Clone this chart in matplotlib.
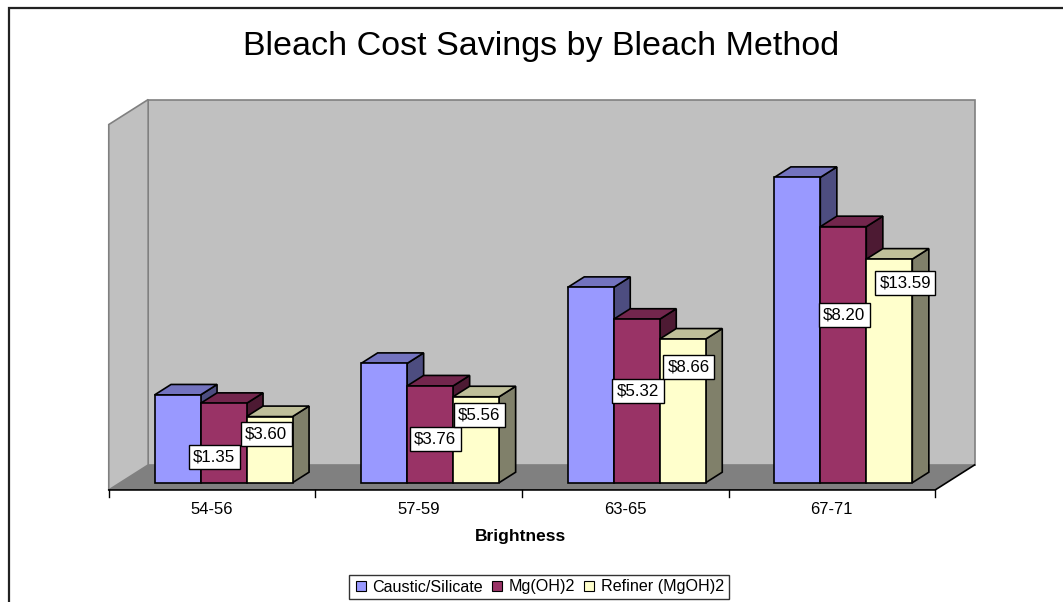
import numpy as np
import matplotlib
matplotlib.use('Agg')
import matplotlib.pyplot as plt
from matplotlib.patches import Polygon, Rectangle
from matplotlib.lines import Line2D

plt.rcParams['font.family'] = ['Liberation Sans', 'DejaVu Sans']

#%% data

categories = ['54-56', '57-59', '63-65', '67-71']
series = ['Caustic/Silicate', 'Mg(OH)2', 'Refiner (MgOH)2']

caustic = [14.6, 19.85, 32.5, 50.8]
mg = [13.2, 16.1, 27.2, 42.6]
refiner = [11.0, 14.3, 23.9, 37.2]

mg_labels = ['$1.35', '$3.76', '$5.32', '$8.20']
refiner_labels = ['$3.60', '$5.56', '$8.66', '$13.59']

# where the label boxes sit (x in category units, y in value units)
mg_label_x = [-0.045, 1.024, 2.006, 3.005]
mg_label_y = [4.33, 7.27, 15.27, 27.9]
ref_label_x = [0.206, 1.238, 2.250, 3.299]
ref_label_y = [8.10, 11.26, 19.2, 33.28]

front_cols = ['#9999FF', '#993366', '#FFFFCC']
top_cols = ['#7373BF', '#73264D', '#BFBF99']
side_cols = ['#4D4D80', '#4D1A33', '#80806A']

#%% figure and "3d" frame

W, H = 1063, 602
fig = plt.figure(figsize=(W / 100, H / 100), dpi=100)
ax = fig.add_axes([0, 0, 1, 1])

X0, SX = 223.5, 206.6   # pixel of category 0, pixels per category
Y0, SY = 482.7, 6.01    # pixel of value 0, pixels per unit
ax.set_xlim((0 - X0) / SX, (W - X0) / SX)
ax.set_ylim((Y0 - H) / SY, Y0 / SY)
ax.axis('off')

DX, DY = 39.4 / SX, 25.0 / SY   # full floor depth in data units
d_front, d_back = -0.29, 0.71
bar_depth = 0.42
ztop = 60.8
bw = 46 / SX


def P(x, v, d):
    return (x + d * DX, v + d * DY)


xl, xr = -0.5, len(categories) - 0.5

# floor
ax.add_patch(Polygon([P(xl, 0, d_front), P(xr, 0, d_front), P(xr, 0, d_back), P(xl, 0, d_back)],
                     closed=True, fc='#808080', ec='none', zorder=1))
# back wall
ax.add_patch(Polygon([P(xl, 0, d_back), P(xr, 0, d_back), P(xr, ztop, d_back), P(xl, ztop, d_back)],
                     closed=True, fc='#C0C0C0', ec='#808080', lw=1.2, zorder=1))
# left wall
ax.add_patch(Polygon([P(xl, 0, d_front), P(xl, 0, d_back), P(xl, ztop, d_back), P(xl, ztop, d_front)],
                     closed=True, fc='#C0C0C0', ec='#808080', lw=1.2, zorder=1))
# floor edges
fx = [P(xl, 0, d_front)[0], P(xr, 0, d_front)[0], P(xr, 0, d_back)[0]]
fy = [P(xl, 0, d_front)[1], P(xr, 0, d_front)[1], P(xr, 0, d_back)[1]]
ax.plot(fx, fy, color='black', lw=1.2, zorder=2)
# ticks on the category axis
for k in range(len(categories) + 1):
    tx, ty = P(xl + k, 0, d_front)
    ax.plot([tx, tx], [ty, ty - 1.1], color='black', lw=1, zorder=2)

#%% bars

data = [caustic, mg, refiner]
for i in range(len(categories)):
    for j in range(3):
        v = data[j][i]
        x0 = i - 1.5 * bw + j * bw
        x1 = x0 + bw
        side = [P(x1, 0, 0), P(x1, 0, bar_depth), P(x1, v, bar_depth), P(x1, v, 0)]
        top = [P(x0, v, 0), P(x1, v, 0), P(x1, v, bar_depth), P(x0, v, bar_depth)]
        front = [P(x0, 0, 0), P(x1, 0, 0), P(x1, v, 0), P(x0, v, 0)]
        z = 3 + i * 3 + j
        ax.add_patch(Polygon(side, closed=True, fc=side_cols[j], ec='black', lw=1.2, zorder=z))
        ax.add_patch(Polygon(top, closed=True, fc=top_cols[j], ec='black', lw=1.2, zorder=z))
        ax.add_patch(Polygon(front, closed=True, fc=front_cols[j], ec='black', lw=1.2, zorder=z))

box = dict(boxstyle='square,pad=0.26', fc='white', ec='black', lw=1)
for i in range(len(categories)):
    ax.text(mg_label_x[i], mg_label_y[i], mg_labels[i], ha='center', va='center',
            fontsize=12.2, bbox=box, zorder=30)
    ax.text(ref_label_x[i], ref_label_y[i], refiner_labels[i], ha='center', va='center',
            fontsize=12.2, bbox=box, zorder=30)

# category labels
for i, c in enumerate(categories):
    cx = P(i, 0, d_front)[0]
    ax.text(cx, (Y0 - 509.5) / SY, c, ha='center', va='center', fontsize=12)

#%% texts, legend, frame

fig.text(540.8 / W, 1 - 46 / H, 'Bleach Cost Savings by Bleach Method',
         ha='center', va='center', fontsize=24.5)
fig.text(520.8 / W, 1 - 536 / H, 'Brightness', ha='center', va='center',
         fontsize=12.5, fontweight='bold')

handles = [Line2D([], [], ls='none', marker='s', markersize=7.5, markerfacecolor=c,
                  markeredgecolor='black', markeredgewidth=0.8) for c in front_cols]
leg = fig.legend(handles, series, loc='center', bbox_to_anchor=(539 / W, 1 - 587 / H),
                 ncol=3, fontsize=11.6, frameon=True, fancybox=False, edgecolor='black',
                 handlelength=0.8, handletextpad=0.3, columnspacing=0.5, borderpad=0.3)
leg.get_frame().set_linewidth(1.0)

fig.patches.append(Rectangle((8.5 / W, -0.02), 1.02, 1 - 7.5 / H + 0.02, transform=fig.transFigure,
                             fill=False, ec='#222222', lw=1.6))

fig.savefig('out.png', dpi=100)
